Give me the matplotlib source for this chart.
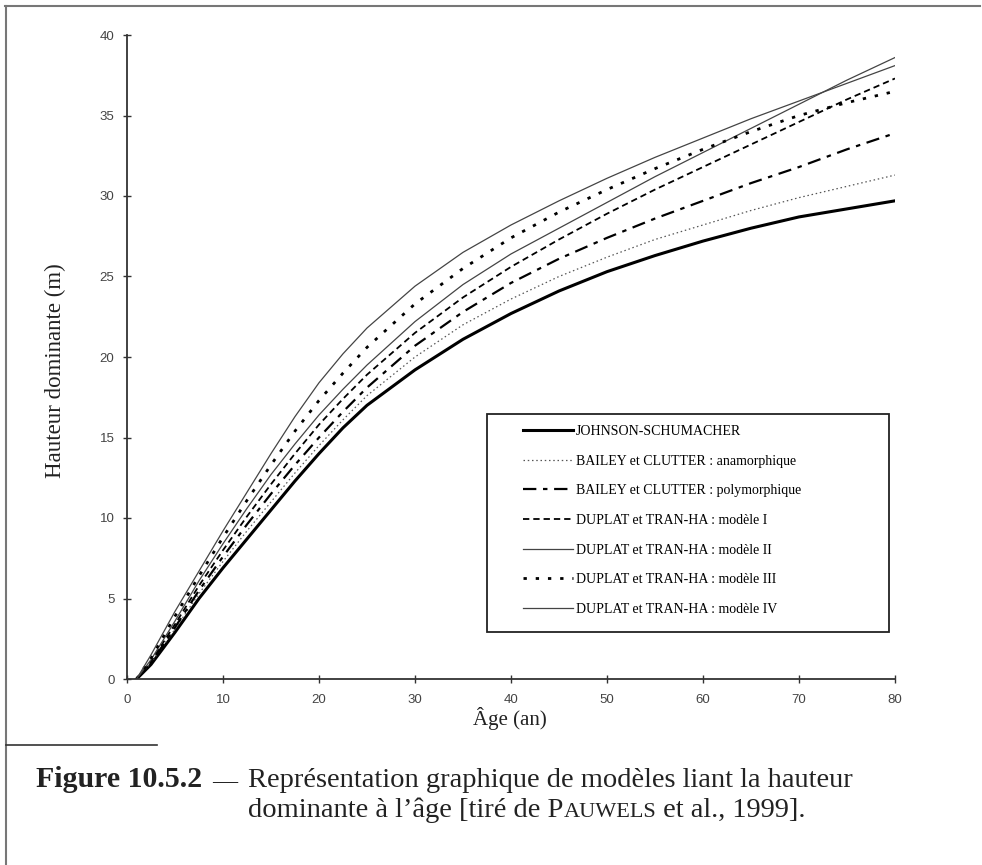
import matplotlib
matplotlib.use("Agg")
import matplotlib.pyplot as plt
from matplotlib.lines import Line2D
from matplotlib.patches import Rectangle

# Dominant height (m) versus stand age (years) for seven site-index models
ages = [1, 2.5, 5, 7.5, 10, 12.5, 15, 17.5, 20, 22.5, 25, 30, 35, 40, 45, 50,
        55, 60, 65, 70, 75, 80]

johnson_schumacher = [0.0, 0.9, 2.9, 5.0, 6.9, 8.7, 10.5, 12.3, 14.0, 15.6, 17.0,
                      19.2, 21.1, 22.7, 24.1, 25.3, 26.3, 27.2, 28.0, 28.7, 29.2, 29.7]
bailey_anamorphic = [0.0, 1.0, 3.1, 5.3, 7.3, 9.2, 11.0, 12.8, 14.5, 16.1, 17.6,
                     20.0, 22.0, 23.6, 25.0, 26.2, 27.3, 28.2, 29.1, 29.9, 30.6, 31.3]
bailey_polymorphic = [0.0, 1.0, 3.2, 5.5, 7.6, 9.6, 11.5, 13.3, 15.0, 16.6, 18.1,
                      20.7, 22.8, 24.6, 26.1, 27.4, 28.6, 29.7, 30.8, 31.8, 32.9, 33.9]
duplat_model_1 = [0.0, 1.1, 3.4, 5.8, 8.0, 10.1, 12.1, 14.0, 15.8, 17.4, 18.9,
                  21.5, 23.7, 25.6, 27.3, 28.9, 30.4, 31.8, 33.2, 34.6, 36.0, 37.3]
duplat_model_2 = [0.0, 1.2, 3.6, 6.1, 8.4, 10.6, 12.7, 14.6, 16.4, 18.0, 19.5,
                  22.2, 24.5, 26.4, 28.0, 29.6, 31.2, 32.7, 34.2, 35.7, 37.2, 38.6]
duplat_model_3 = [0.0, 1.3, 3.9, 6.4, 8.8, 11.1, 13.3, 15.4, 17.3, 19.0, 20.6,
                  23.3, 25.5, 27.4, 29.0, 30.4, 31.7, 32.9, 34.0, 35.0, 35.8, 36.5]
duplat_model_4 = [0.0, 1.5, 4.2, 6.7, 9.2, 11.6, 14.0, 16.3, 18.4, 20.2, 21.8,
                  24.4, 26.5, 28.2, 29.7, 31.1, 32.4, 33.6, 34.8, 35.9, 37.0, 38.1]

series_labels = [
    "JOHNSON-SCHUMACHER",
    "BAILEY et CLUTTER : anamorphique",
    "BAILEY et CLUTTER : polymorphique",
    "DUPLAT et TRAN-HA : modèle I",
    "DUPLAT et TRAN-HA : modèle II",
    "DUPLAT et TRAN-HA : modèle III",
    "DUPLAT et TRAN-HA : modèle IV",
]
x_ticks = [0, 10, 20, 30, 40, 50, 60, 70, 80]
y_ticks = [0, 5, 10, 15, 20, 25, 30, 35, 40]

W, H = 982, 865
fig = plt.figure(figsize=(W / 100, H / 100), dpi=100)
fig.patch.set_facecolor("white")


def fx(px):
    return px / W


def fy(py):
    return 1 - py / H


ax = fig.add_axes([fx(127), fy(679), fx(895) - fx(127), fy(35) - fy(679)])
ax.set_xlim(0, 80)
ax.set_ylim(0, 40)
for side in ("top", "right"):
    ax.spines[side].set_visible(False)
for side in ("left", "bottom"):
    ax.spines[side].set_color("#333333")
    ax.spines[side].set_linewidth(1.3)

ax.set_xticks(x_ticks)
ax.set_yticks(y_ticks)
ax.tick_params(direction="inout", length=6, width=1.0, color="#333333",
               labelsize=9.5, labelcolor="#444444")
ax.tick_params(axis="x", pad=8)
ax.tick_params(axis="y", pad=6)
for lab in ax.get_xticklabels() + ax.get_yticklabels():
    lab.set_fontfamily("Liberation Sans")

styles = [
    dict(color="black", lw=2.2, ls="-"),
    dict(color="#555555", lw=0.9, ls=(0, (1.2, 2.2))),
    dict(color="black", lw=1.6, ls=(0, (6, 3, 2, 3))),
    dict(color="black", lw=1.3, ls=(0, (3.5, 2.2))),
    dict(color="#444444", lw=0.9, ls="-"),
    dict(color="black", lw=2.0, ls=(0, (1.2, 3.2))),
    dict(color="#444444", lw=0.9, ls="-"),
]
all_series = [johnson_schumacher, bailey_anamorphic, bailey_polymorphic,
              duplat_model_1, duplat_model_2, duplat_model_3, duplat_model_4]

for values, label, st in zip(all_series, series_labels, styles):
    ax.plot(ages, values, label=label, **st)

# Legend entries, with a separate box drawn around them
leg = ax.legend(loc="upper left", bbox_to_anchor=(fx(523), fy(425)),
                bbox_transform=fig.transFigure, frameon=False, borderpad=0,
                borderaxespad=0, handlelength=3.6, handletextpad=0.2,
                labelspacing=1.2, prop={"family": "Liberation Serif", "size": 10})
fig.add_artist(Rectangle((fx(487), fy(632)), fx(889) - fx(487), fy(414) - fy(632),
                         transform=fig.transFigure, fill=False,
                         edgecolor="#222222", lw=1.3))

# Axis titles
fig.text(fx(55), fy(371), "Hauteur dominante (m)", rotation=90, ha="center",
         va="center", family="Liberation Serif", fontsize=16.5, color="#222222")
fig.text(fx(510), fy(718), "Âge (an)", ha="center", va="center",
         family="Liberation Serif", fontsize=15, color="#222222")

# Page frame lines
fig.add_artist(Line2D([fx(5), fx(980)], [fy(6), fy(6)], transform=fig.transFigure,
                      color="#777777", lw=1.5))
fig.add_artist(Line2D([fx(6), fx(6)], [fy(6), fy(865)], transform=fig.transFigure,
                      color="#777777", lw=1.5))
fig.add_artist(Line2D([fx(6), fx(157)], [fy(745), fy(745)], transform=fig.transFigure,
                      color="#333333", lw=1.2))

# Caption
cap_kw = dict(family="Liberation Serif", fontsize=20.5, color="#222222", va="baseline")
fig.text(fx(36), fy(787), "Figure 10.5.2", fontweight="bold",
         **{**cap_kw, "fontsize": 21.5})
fig.text(fx(212), fy(787), "—", **{**cap_kw, "fontsize": 18})
fig.text(fx(248), fy(787), "Représentation graphique de modèles liant la hauteur", **cap_kw)

t1 = fig.text(fx(248), fy(817), "dominante à l’âge [tiré de P", **cap_kw)
fig.canvas.draw()
r = fig.canvas.get_renderer()
bb = t1.get_window_extent(r)
t2 = fig.text(bb.x1 / W, fy(817), "AUWELS", **{**cap_kw, "fontsize": 16})
bb2 = t2.get_window_extent(r)
fig.text(bb2.x1 / W, fy(817), " et al., 1999].", **cap_kw)

fig.savefig("out.png", dpi=100, facecolor="white")
